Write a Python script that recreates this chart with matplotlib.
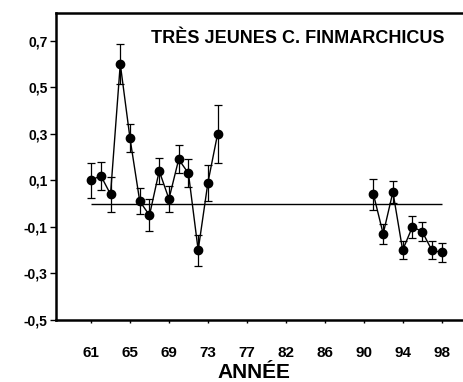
import matplotlib
matplotlib.use("Agg")
import matplotlib.pyplot as plt

plt.rcParams['font.family'] = ['Liberation Sans', 'DejaVu Sans']
plt.rcParams['font.weight'] = 'bold'

# anomalies, very young C. finmarchicus
years_early = [61, 62, 63, 64, 65, 66, 67, 68, 69, 70, 71, 72, 73, 74]
anom_early = [0.10, 0.12, 0.04, 0.60, 0.28, 0.01, -0.05, 0.14, 0.02, 0.19, 0.13, -0.20, 0.09, 0.30]
err_early = [0.075, 0.06, 0.075, 0.085, 0.06, 0.055, 0.068, 0.055, 0.055, 0.06, 0.06, 0.066, 0.077, 0.125]

years_late = [91, 92, 93, 94, 95, 96, 97, 98]
anom_late = [0.04, -0.13, 0.05, -0.20, -0.10, -0.12, -0.20, -0.21]
err_late = [0.066, 0.043, 0.047, 0.04, 0.046, 0.04, 0.04, 0.041]

# year axis is categorical (1980 not on the scale)
axis_years = [y for y in range(61, 99) if y != 80]
tick_years = [61, 65, 69, 73, 77, 82, 86, 90, 94, 98]
y_ticks = [-0.5, -0.3, -0.1, 0.1, 0.3, 0.5, 0.7]

def pos(years):
    return [axis_years.index(y) for y in years]

fig = plt.figure(figsize=(4.64, 3.82), dpi=100)
ax = fig.add_axes([0.1207, 0.1623, 0.8793, 0.8045])

for yrs, vals, errs in [(years_early, anom_early, err_early), (years_late, anom_late, err_late)]:
    ax.errorbar(pos(yrs), vals, yerr=errs, color='black', lw=1, marker='o', ms=6,
                capsize=3.2, elinewidth=0.9, capthick=0.9)

ax.hlines(0, pos([61])[0], pos([98])[0], color='black', lw=1)

ax.set_xlim(-3.6, 38.3)
ax.set_ylim(-0.5, 0.82)
ax.set_xticks(pos(tick_years))
ax.set_xticklabels([str(y) for y in tick_years], fontsize=11, fontweight='bold')
ax.set_yticks(y_ticks)
ax.set_yticklabels([f"{v:.1f}".replace('.', ',') for v in y_ticks], fontsize=10, fontweight='bold')
ax.tick_params(axis='x', direction='out', length=2.5, width=1, pad=16)
ax.tick_params(axis='y', direction='out', length=4, width=1, pad=2)

for s in ['left', 'top', 'bottom']:
    ax.spines[s].set_linewidth(1.8)
ax.spines['right'].set_visible(False)

fig.text(0.959, 0.888, "TRÈS JEUNES C. FINMARCHICUS", ha='right', va='baseline',
         fontsize=13, fontweight='bold')
fig.text(0.548, 0.01, "ANNÉE", ha='center', va='baseline', fontsize=15, fontweight='bold')

fig.savefig("out.png", dpi=100)
